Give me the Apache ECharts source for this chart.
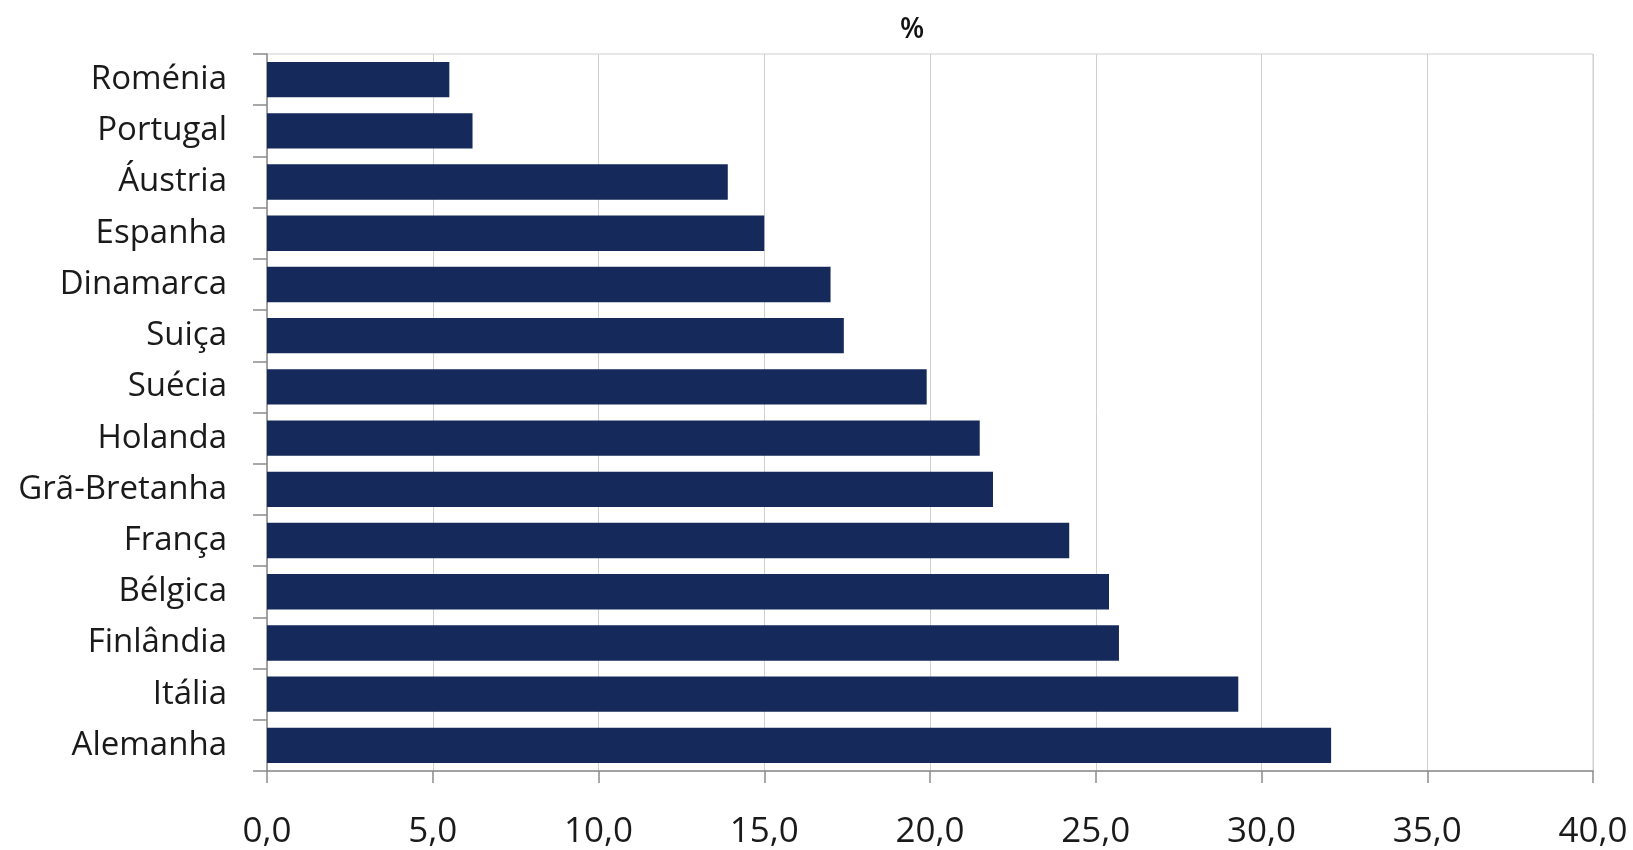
<!DOCTYPE html>
<html>
<head>
<meta charset="utf-8">
<script src="https://cdn.jsdelivr.net/npm/echarts@6/dist/echarts.min.js"></script>
<style>
  html, body { margin: 0; padding: 0; background: #fff; }
  #chart { width: 1633px; height: 850px; }
</style>
</head>
<body>
<div id="chart"></div>
<script>
// Countries, top to bottom
const countries = ['Roménia', 'Portugal', 'Áustria', 'Espanha', 'Dinamarca', 'Suiça', 'Suécia',
  'Holanda', 'Grã-Bretanha', 'França', 'Bélgica', 'Finlândia', 'Itália', 'Alemanha'];
// Share in %
const shares = [5.5, 6.2, 13.9, 15.0, 17.0, 17.4, 19.9, 21.5, 21.9, 24.2, 25.4, 25.7, 29.3, 32.1];
// Value axis range
const axisMin = 0;
const axisMax = 40;
const axisStep = 5;

const fontFamily = '"Open Sans", Lato, sans-serif';

const chart = echarts.init(document.getElementById('chart'));
chart.setOption({
  animation: false,
  backgroundColor: '#ffffff',
  title: {
    text: '%',
    left: 907,
    textAlign: 'center',
    top: 11,
    textStyle: { fontFamily, fontSize: 28, fontWeight: 600, color: '#111' }
  },
  grid: {
    left: 267, right: 40, top: 54, bottom: 79,
    show: true, borderColor: '#cfcfcf', borderWidth: 1
  },
  xAxis: {
    type: 'value',
    min: axisMin, max: axisMax, interval: axisStep,
    axisLine: { show: true, lineStyle: { color: '#8c8c8c', width: 1.5 } },
    axisTick: { show: true, length: 12, lineStyle: { color: '#8c8c8c', width: 1.5 } },
    splitLine: { show: true, lineStyle: { color: '#d0d0d0', width: 1 } },
    axisLabel: {
      margin: 44,
      fontFamily, fontSize: 35, fontWeight: 500, color: '#1a1a1a',
      formatter: v => v.toFixed(1).replace('.', ',')
    }
  },
  yAxis: {
    type: 'category',
    data: countries,
    inverse: true,
    axisLine: { show: true, lineStyle: { color: '#8c8c8c', width: 1.5 } },
    axisTick: { show: true, length: 14, lineStyle: { color: '#8c8c8c', width: 1.5 } },
    axisLabel: { margin: 40, fontFamily, fontSize: 33, fontWeight: 500, color: '#1a1a1a' }
  },
  series: [{
    type: 'bar',
    data: shares,
    barCategoryGap: '31%',
    itemStyle: { color: '#15295a' }
  }]
});
</script>
</body>
</html>
